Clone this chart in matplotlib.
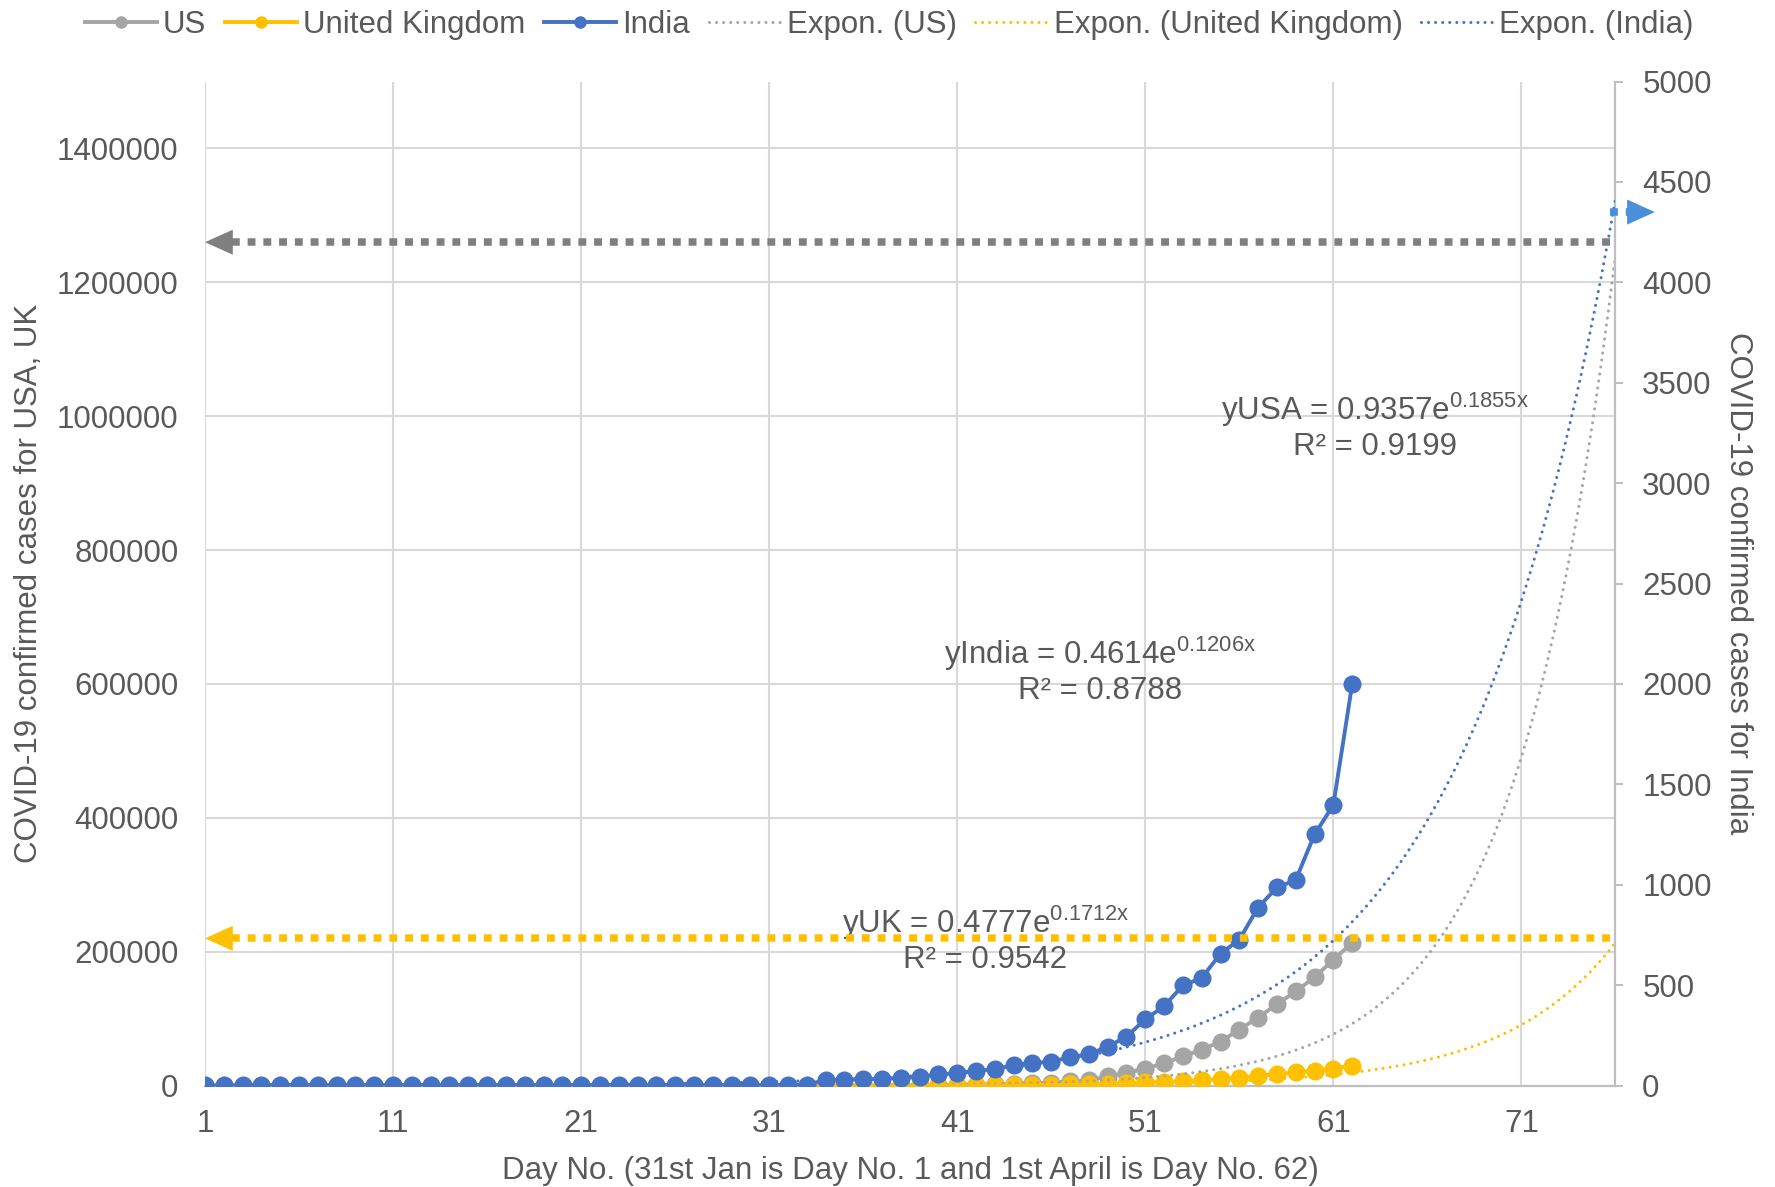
import numpy as np
import matplotlib
matplotlib.use('Agg')
import matplotlib.pyplot as plt
from matplotlib.lines import Line2D
from matplotlib.ticker import FuncFormatter

# Day 1 = 31 Jan 2020, day 62 = 1 Apr 2020
days = np.arange(1, 63)

us_cases = [
    6, 8, 8, 11, 11, 11, 11, 11, 11, 11,
    11, 12, 12, 13, 13, 13, 13, 13, 13, 13,
    13, 15, 15, 15, 51, 51, 57, 58, 60, 68,
    74, 98, 118, 149, 217, 262, 402, 518, 583, 959,
    1281, 1663, 2179, 2727, 3499, 4632, 6421, 7786, 13680, 19101,
    25493, 33276, 43847, 53740, 65778, 83836, 101657, 121478, 140886, 161807,
    188172, 213372,
]
uk_cases = [
    2, 2, 2, 2, 2, 2, 2, 3, 3, 3,
    8, 8, 9, 9, 9, 9, 9, 9, 9, 9,
    9, 9, 9, 9, 9, 13, 13, 15, 20, 23,
    36, 40, 51, 86, 116, 164, 207, 274, 322, 384,
    459, 459, 802, 1144, 1145, 1551, 1960, 2642, 2716, 4014,
    5067, 5745, 6726, 8164, 9640, 11812, 14745, 17312, 19780, 22453,
    25481, 29865,
]
india_cases = [
    1, 1, 2, 3, 3, 3, 3, 3, 3, 3,
    3, 3, 3, 3, 3, 3, 3, 3, 3, 3,
    3, 3, 3, 3, 3, 3, 3, 3, 3, 3,
    3, 5, 5, 28, 30, 31, 34, 39, 43, 56,
    62, 73, 82, 102, 113, 119, 142, 156, 194, 244,
    330, 396, 499, 536, 657, 727, 887, 987, 1024, 1251,
    1397, 1998,
]

# exponential trendlines y = a * e^(b x), forecast 14 days past the last point
fit_us = (0.9357, 0.1855, 0.9199)
fit_uk = (0.4777, 0.1712, 0.9542)
fit_india = (0.4614, 0.1206, 0.8788)
forecast_days = 14

# levels the axis-pointer arrows sit at (left axis for US/UK, right for India)
arrow_us = 1260000
arrow_uk = 220000
arrow_india = 4350

C_US = '#a5a5a5'
C_UK = '#ffc000'
C_IN = '#4472c4'
C_TEXT = '#595959'
C_GRID = '#d9d9d9'
C_AXIS = '#bfbfbf'

plt.rcParams['font.family'] = ['Liberation Sans', 'DejaVu Sans']
plt.rcParams['mathtext.fontset'] = 'custom'
plt.rcParams['mathtext.rm'] = 'Liberation Sans'
plt.rcParams['mathtext.it'] = 'Liberation Sans:italic'
plt.rcParams['text.color'] = C_TEXT
FS = 22.5


def trend(fit, x):
    a, b, _ = fit
    return a * np.exp(b * x)


def fit_label(ax, x, y, name, fit):
    a, b, r2 = fit
    ax.text(x, y, f'y{name} = {a:.4f}e$^{{\\mathrm{{{b:.4f}x}}}}$', ha='center',
            va='center', fontsize=FS, color=C_TEXT, zorder=6)


def r2_label(ax, x, y, fit):
    ax.text(x, y, f'R² = {fit[2]:.4f}', ha='center', va='center',
            fontsize=FS, color=C_TEXT, zorder=6)


fig = plt.figure(figsize=(17.75, 11.87), dpi=100)
ax = fig.add_axes([0.1155, 0.0854, 0.7946, 0.8459])
ax2 = ax.twinx()

xfit = np.linspace(1, days[-1] + forecast_days, 400)
dotted = dict(lw=2.2, linestyle=(0, (0.01, 2.3)), dash_capstyle='round')
series = dict(lw=2.8, marker='o', markersize=13, markeredgewidth=0)

ax.plot(days, us_cases, color=C_US, zorder=3, **series)
ax.plot(days, uk_cases, color=C_UK, zorder=3, **series)
ax.plot(xfit, trend(fit_us, xfit), color=C_US, zorder=4, **dotted)
ax.plot(xfit, trend(fit_uk, xfit), color=C_UK, zorder=4, **dotted)

ax2.plot(days, india_cases, color=C_IN, zorder=3, **series)
ax2.plot(xfit, trend(fit_india, xfit), color=C_IN, zorder=4, **dotted)

# axes
ax.set_xlim(1, 76)
ax.set_ylim(0, 1500000)
ax2.set_ylim(0, 5000)
ax.set_xticks(np.arange(1, 72, 10))
ax.set_yticks(np.arange(0, 1400001, 200000))
ax2.set_yticks(np.arange(0, 5001, 500))
ax.yaxis.set_major_formatter(FuncFormatter(lambda v, _: f'{v:.0f}'))

ax.grid(True, color=C_GRID, lw=1.5)
ax.set_axisbelow(True)
for s in ['top', 'left', 'right']:
    ax.spines[s].set_visible(False)
ax.spines['bottom'].set_color(C_AXIS)
ax.spines['bottom'].set_linewidth(1.6)
for s in ['top', 'left', 'bottom']:
    ax2.spines[s].set_visible(False)
ax2.spines['right'].set_color(C_AXIS)
ax2.spines['right'].set_linewidth(1.6)

ax.tick_params(axis='y', length=0, pad=19, labelsize=FS, labelcolor=C_TEXT)
ax.tick_params(axis='x', length=0, pad=17, labelsize=FS, labelcolor=C_TEXT)
ax2.tick_params(axis='y', direction='out', length=5.8, width=1.5, color=C_AXIS,
                pad=13.5, labelsize=FS, labelcolor=C_TEXT)

ax.set_xlabel('Day No. (31st Jan is Day No. 1 and 1st April is Day No. 62)',
              fontsize=FS, color=C_TEXT, labelpad=12)
ax.set_ylabel('COVID-19 confirmed cases for USA, UK', fontsize=FS,
              color=C_TEXT, labelpad=9)
ax2.set_ylabel('COVID-19 confirmed cases for India', fontsize=FS,
               color=C_TEXT, rotation=270, va='bottom', labelpad=8)

# trendline equations
fit_label(ax, 63.2, 1009000, 'USA', fit_us)
r2_label(ax, 63.2, 954000, fit_us)
fit_label(ax, 48.6, 644600, 'India', fit_india)
r2_label(ax, 48.6, 590200, fit_india)
fit_label(ax, 42.5, 243500, 'UK', fit_uk)
r2_label(ax, 42.5, 187600, fit_uk)

# arrows pointing to the axis each series is read from
thick = dict(lw=5.4, linestyle=(0, (1.05, 1.05)), dash_capstyle='butt',
             zorder=8, clip_on=False)


def head(axis, tip_x, level, color, direction, transform):
    axis.annotate('', xy=(tip_x, level), xycoords=transform,
                  xytext=(18.7 * direction, 0), textcoords='offset points',
                  arrowprops=dict(arrowstyle='-|>,head_length=20,head_width=9',
                                  lw=0, color=color, shrinkA=0, shrinkB=0,
                                  mutation_scale=1),
                  annotation_clip=False, zorder=9)


ax2.plot([75.7, 2.35], [arrow_us, arrow_us], color='#7f7f7f',
         transform=ax.transData, **thick)
head(ax2, 1, arrow_us, '#7f7f7f', 1, ax.transData)
ax2.plot([75.7, 2.35], [arrow_uk, arrow_uk], color=C_UK,
         transform=ax.transData, **thick)
head(ax2, 1, arrow_uk, C_UK, 1, ax.transData)
ax2.plot([75.7, 76.9], [arrow_india, arrow_india], color='#4a8fd9', **thick)
head(ax2, 78.1, arrow_india, '#4a8fd9', -1, ax2.transData)

# legend across the top
mk = dict(marker='o', markersize=9, markeredgewidth=0, lw=2.8)
handles = [
    Line2D([], [], color=C_US, **mk),
    Line2D([], [], color=C_UK, **mk),
    Line2D([], [], color=C_IN, **mk),
    Line2D([], [], color=C_US, **dotted),
    Line2D([], [], color=C_UK, **dotted),
    Line2D([], [], color=C_IN, **dotted),
]
labels = ['US', 'United Kingdom', 'India', 'Expon. (US)',
          'Expon. (United Kingdom)', 'Expon. (India)']
fig.legend(handles, labels, loc='center', bbox_to_anchor=(0.501, 0.979),
           ncol=6, frameon=False, fontsize=FS, handlelength=2.3,
           handletextpad=0.2, columnspacing=0.6, labelcolor=C_TEXT)

fig.savefig('out.png', dpi=100)
